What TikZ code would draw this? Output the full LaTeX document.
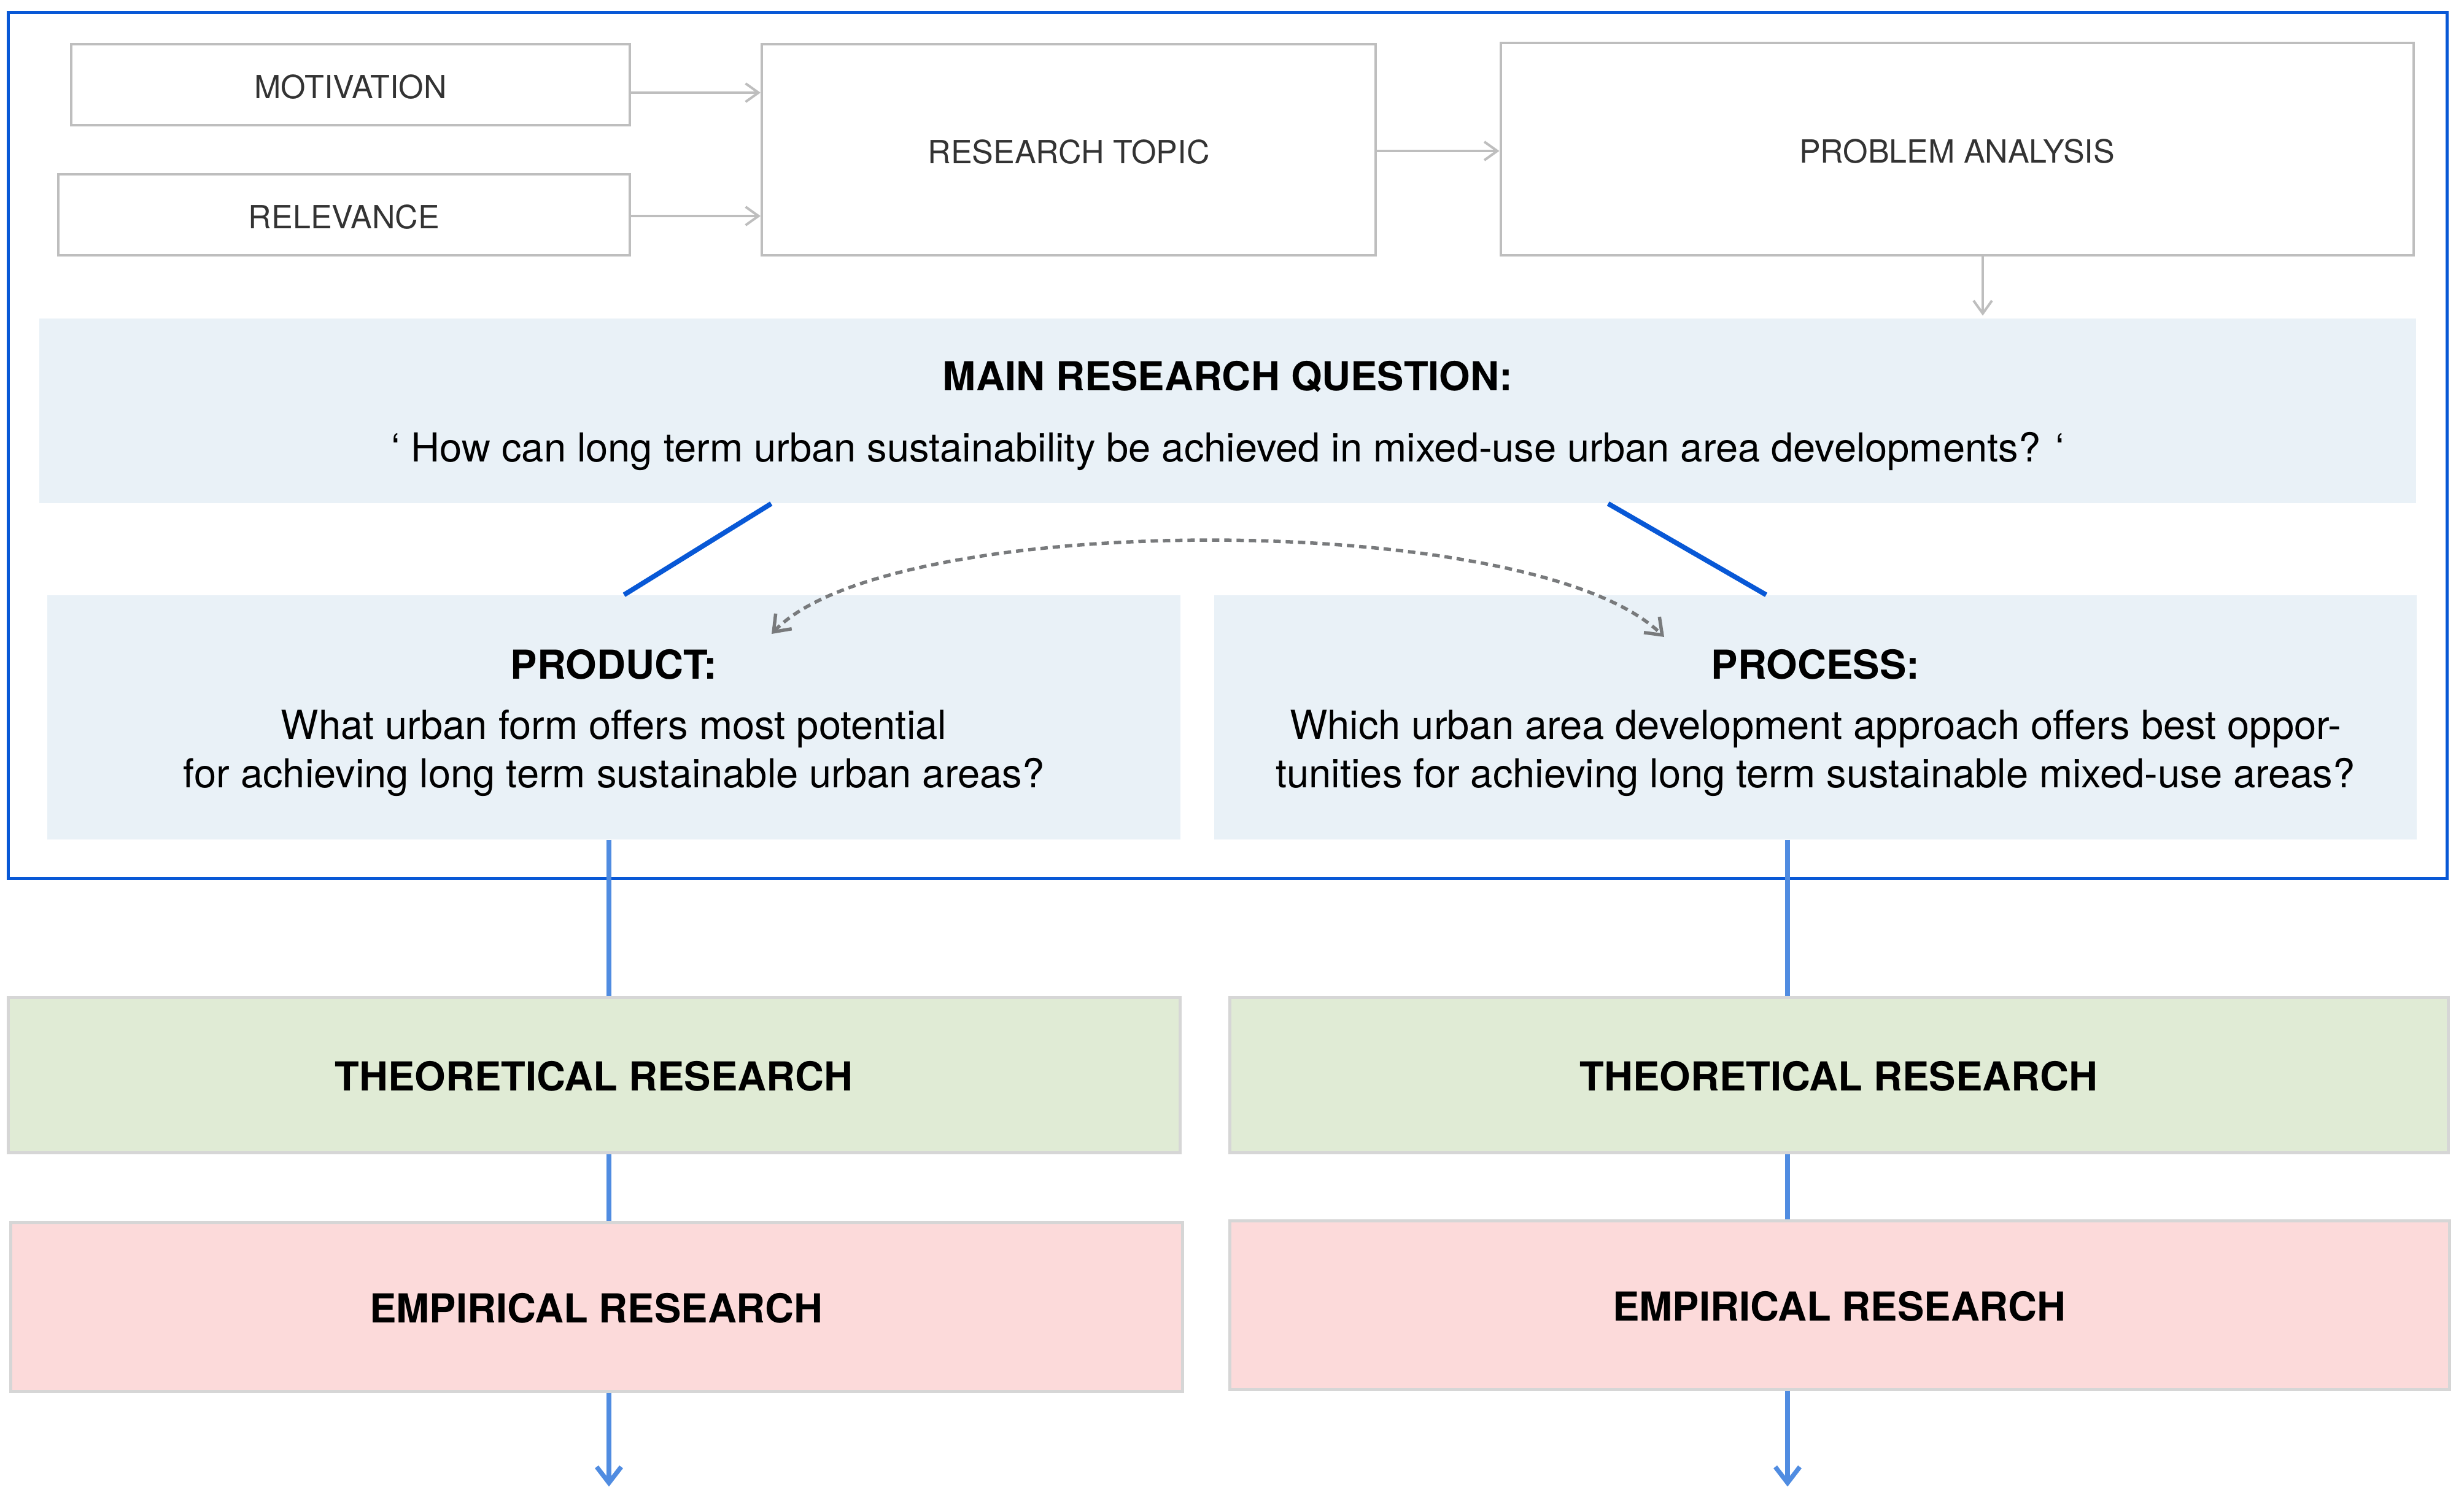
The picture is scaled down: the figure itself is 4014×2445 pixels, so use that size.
\documentclass[tikz,border=0pt]{standalone}
\usepackage{fontspec}
\setmainfont{TeX Gyre Heros}
\usetikzlibrary{arrows,arrows.meta,calc}

\definecolor{frameblue}{RGB}{8,88,214}
\definecolor{lineblue}{RGB}{80,140,225}
\definecolor{boxgray}{RGB}{190,190,190}
\definecolor{edgegray}{RGB}{214,214,214}
\definecolor{curvegray}{RGB}{120,122,124}
\definecolor{textgray}{RGB}{51,51,51}
\definecolor{qfill}{RGB}{233,241,247}
\definecolor{theofill}{RGB}{224,235,213}
\definecolor{empfill}{RGB}{252,218,218}

\tikzset{
    topbox/.style={draw=boxgray,line width=0.4mm,inner sep=0pt,text=textgray,
        text height=4.5mm,text depth=0pt,font=\fontsize{14.8}{17}\selectfont},
    qbox/.style={fill=qfill,inner sep=0pt},
    qtext/.style={inner sep=0pt,align=center,font=\fontsize{18.5}{22.5}\selectfont},
    resbox/.style={draw=edgegray,line width=0.5mm,inner sep=0pt,
        text height=5.2mm,text depth=0pt,font=\bfseries\fontsize{18.5}{22}\selectfont},
    greyarrow/.style={-{Straight Barb[length=2.1mm,width=3mm]},draw=boxgray,line width=0.4mm},
    blueline/.style={draw=frameblue,line width=0.8mm},
    flowline/.style={draw=lineblue,line width=0.75mm,>={Straight Barb[length=2.6mm,width=4mm]}},
    linkcurve/.style={{Straight Barb[length=2.4mm,width=3.6mm]}-{Straight Barb[length=2.4mm,width=3.6mm]},
        draw=curvegray,line width=0.55mm,dash pattern=on 1.2mm off 0.8mm},
}

\begin{document}
\begin{tikzpicture}[x=0.1mm,y=-0.1mm]
    % Canvas:
    % Fixed to the size of the whole figure, margins included
    \useasboundingbox (0,0) rectangle (4014,2445);

    % Top row:
    % Plain grey boxes, placed at their centres
    \node [topbox,minimum width=91mm,minimum height=13.2mm]    (mot)     at (571,138)   {MOTIVATION};
    \node [topbox,minimum width=93.1mm,minimum height=13.2mm]  (rel)     at (560.5,350) {RELEVANCE};
    \node [topbox,minimum width=100mm,minimum height=34.4mm]   (topic)   at (1741,244)  {RESEARCH TOPIC};
    \node [topbox,minimum width=148.7mm,minimum height=34.6mm] (problem) at (3188,243)  {PROBLEM ANALYSIS};

    % Questions:
    % Filled boxes without a border, the text sits a little below their centre
    \node [qbox,minimum width=387.2mm,minimum height=30.1mm] (mainq) at (2000,669.5) {};
    \node [qbox,minimum width=184.6mm,minimum height=39.8mm] (prod)  at (1000,1169)  {};
    \node [qbox,minimum width=195.9mm,minimum height=39.8mm] (proc)  at (2957.5,1169) {};
    \node [qtext] (mainqtext) at ([yshift=-0.8mm]mainq.center)
        {\textbf{MAIN RESEARCH QUESTION:}\\[10.5pt]
         ‘ How can long term urban sustainability be achieved in mixed-use urban area developments? ‘};
    \node [qtext] (prodtext) at ([yshift=-0.9mm]prod.center)
        {\textbf{PRODUCT:}\\[5.5pt]
         What urban form offers most potential\\
         for achieving long term sustainable urban areas?};
    \node [qtext] (proctext) at ([yshift=-0.9mm]proc.center)
        {\textbf{PROCESS:}\\[5.5pt]
         Which urban area development approach offers best oppor-\\
         tunities for achieving long term sustainable mixed-use areas?};

    % Frame round the question part:
    \draw [frameblue,line width=0.5mm] (13,20) rectangle (3986,1431);

    % Research boxes:
    \node [resbox,fill=theofill,minimum width=190.9mm,minimum height=25.3mm] (theoL) at (967.5,1751.5)  {THEORETICAL RESEARCH};
    \node [resbox,fill=theofill,minimum width=198.5mm,minimum height=25.3mm] (theoR) at (2995.5,1751.5) {THEORETICAL RESEARCH};
    \node [resbox,fill=empfill,minimum width=190.9mm,minimum height=27.5mm]  (empL)  at (971.5,2129.5)  {EMPIRICAL RESEARCH};
    \node [resbox,fill=empfill,minimum width=198.7mm,minimum height=27.5mm]  (empR)  at (2996.5,2126.5) {EMPIRICAL RESEARCH};

    % Grey arrows of the top row:
    \draw [greyarrow] ([yshift=-1.3mm]mot.east) -- ([yshift=-1.3mm]mot.east -| topic.west);
    \draw [greyarrow] ([yshift=-0.2mm]rel.east) -- ([yshift=-0.2mm]rel.east -| topic.west);
    \draw [greyarrow] ([yshift=-0.2mm]topic.east) -- ([yshift=-0.2mm]topic.east -| problem.west);
    \draw [greyarrow] ([xshift=4.2mm]problem.south) -- ([xshift=4.2mm,yshift=0.4mm]problem.south |- mainq.north);

    % Blue lines from the main question to the two sub questions:
    \draw [blueline] ($(mainq.south west)!0.308!(mainq.south east)$) -- ($(prod.north west)!0.509!(prod.north east)$);
    \draw [blueline] ($(mainq.south west)!0.66!(mainq.south east)$)  -- ($(proc.north west)!0.459!(proc.north east)$);

    % Dotted link between product and process:
    \coordinate (dl) at (1257,1033);
    \coordinate (dr) at (2711,1038);
    \draw [linkcurve] (dl) .. controls (1450,830) and (2500,830) .. (dr);

    % Flow down to the research boxes:
    \coordinate (lx) at (992,0);
    \coordinate (rx) at (2912,0);
    \draw [flowline] (prod.south -| lx) -- (theoL.north -| lx);
    \draw [flowline] (theoL.south -| lx) -- (empL.north -| lx);
    \draw [flowline,->] (empL.south -| lx) -- ++(0,153);
    \draw [flowline] (proc.south -| rx) -- (theoR.north -| rx);
    \draw [flowline] (theoR.south -| rx) -- (empR.north -| rx);
    \draw [flowline,->] (empR.south -| rx) -- ++(0,156);
\end{tikzpicture}
\end{document}
